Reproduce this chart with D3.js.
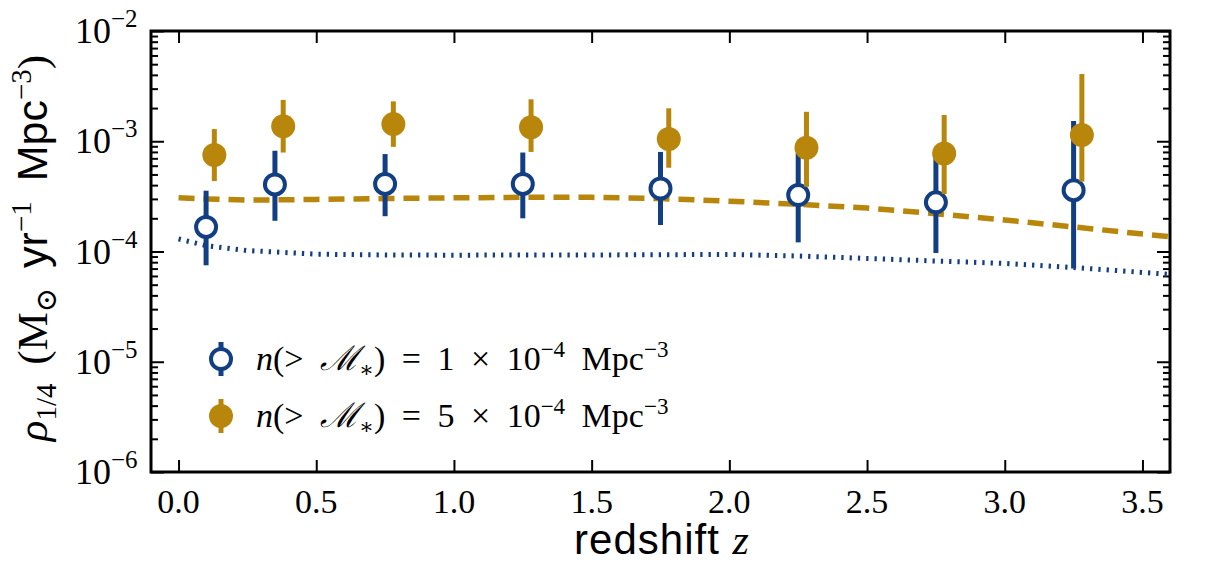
<!doctype html>
<html>
<head>
<meta charset="utf-8">
<script src="https://d3js.org/d3.v7.min.js"></script>
<style>
  body { margin: 0; background: white; }
  svg text { fill: #000; }
</style>
</head>
<body>
<svg id="chart" width="1206" height="563"></svg>
<script>
// measured points (open blue: n > 1e-4, filled gold: n > 5e-4)
var blueZ   = [0.10, 0.35, 0.75, 1.25, 1.75, 2.25, 2.75, 3.25];
var blueRho = [1.67e-4, 4.06e-4, 4.1e-4, 4.1e-4, 3.73e-4, 3.25e-4, 2.79e-4, 3.6e-4];
var blueLo  = [7.5e-5, 1.9e-4, 2.09e-4, 2.0e-4, 1.74e-4, 1.21e-4, 9.7e-5, 7.0e-5];
var blueHi  = [3.56e-4, 8.2e-4, 7.65e-4, 7.9e-4, 8.0e-4, 7.8e-4, 7.0e-4, 1.53e-3];

var goldZ   = [0.13, 0.38, 0.78, 1.28, 1.78, 2.28, 2.78, 3.28];
var goldRho = [7.5e-4, 1.37e-3, 1.43e-3, 1.34e-3, 1.05e-3, 8.73e-4, 7.76e-4, 1.14e-3];
var goldLo  = [4.35e-4, 7.9e-4, 8.9e-4, 8.0e-4, 5.75e-4, 3.86e-4, 3.32e-4, 4.3e-4];
var goldHi  = [1.29e-3, 2.37e-3, 2.3e-3, 2.4e-3, 1.99e-3, 1.85e-3, 1.73e-3, 4.07e-3];

// model curves
var modelZ    = [0, 0.1, 0.25, 0.5, 0.75, 1.0, 1.25, 1.5, 1.75, 2.0, 2.25, 2.5, 2.75, 3.0, 3.25, 3.6];
var modelGold = [3.07e-4, 3.0e-4, 2.92e-4, 2.97e-4, 3.02e-4, 3.07e-4, 3.1e-4, 3.1e-4, 3.02e-4, 2.86e-4, 2.68e-4, 2.48e-4, 2.2e-4, 1.93e-4, 1.67e-4, 1.36e-4];
var modelBlue = [1.3e-4, 1.13e-4, 1.02e-4, 9.46e-5, 9.3e-5, 9.26e-5, 9.3e-5, 9.3e-5, 9.35e-5, 9.4e-5, 9.1e-5, 8.65e-5, 8.2e-5, 7.8e-5, 7.16e-5, 6.2e-5];

var xTicks = [0, 0.5, 1.0, 1.5, 2.0, 2.5, 3.0, 3.5];
var yExps  = [-2, -3, -4, -5, -6];

var blue = "#123e84", gold = "#b8860b";
var serif = "'Liberation Serif', 'DejaVu Serif', serif";
var sans = "'Liberation Sans', Arial, sans-serif";

var L = 151, R = 1170, T = 31, B = 472;
var svg = d3.select("#chart");

var x = d3.scaleLinear().domain([-0.1, 3.6]).range([L, R]);
var y = d3.scaleLog().domain([1e-6, 1e-2]).range([B, T]);

// minor ticks for the log axis
var minor = [];
for (var e = -6; e < -2; e++) {
  for (var k = 2; k <= 9; k++) minor.push(k * Math.pow(10, e));
}
var major = yExps.map(function(p){ return Math.pow(10, p); });

function styleAxis(g, w) {
  g.select(".domain").remove();
  g.selectAll("line").attr("stroke", "#000").attr("stroke-width", w);
}

svg.append("g").attr("transform", "translate(0," + B + ")")
  .call(d3.axisBottom(x).tickValues(xTicks).tickSize(-12).tickFormat(""))
  .call(styleAxis, 2);
svg.append("g").attr("transform", "translate(0," + T + ")")
  .call(d3.axisTop(x).tickValues(xTicks).tickSize(-12).tickFormat(""))
  .call(styleAxis, 2);
svg.append("g").attr("transform", "translate(" + L + ",0)")
  .call(d3.axisLeft(y).tickValues(major).tickSize(-13).tickFormat(""))
  .call(styleAxis, 2);
svg.append("g").attr("transform", "translate(" + L + ",0)")
  .call(d3.axisLeft(y).tickValues(minor).tickSize(-7).tickFormat(""))
  .call(styleAxis, 2);
svg.append("g").attr("transform", "translate(" + R + ",0)")
  .call(d3.axisRight(y).tickValues(major).tickSize(-13).tickFormat(""))
  .call(styleAxis, 2);
svg.append("g").attr("transform", "translate(" + R + ",0)")
  .call(d3.axisRight(y).tickValues(minor).tickSize(-7).tickFormat(""))
  .call(styleAxis, 2);

// tick labels
svg.append("g").selectAll("text").data(xTicks).enter().append("text")
  .attr("x", function(d){ return x(d); })
  .attr("y", B + 41)
  .attr("text-anchor", "middle")
  .attr("font-family", serif).attr("font-size", 34)
  .attr("font-weight", 300)
  .text(function(d){ return d.toFixed(1); });

svg.append("g").selectAll("text").data(yExps).enter().append("text")
  .attr("x", 111)
  .attr("y", function(d){ return y(Math.pow(10, d)) + 12; })
  .attr("text-anchor", "end")
  .attr("font-family", serif).attr("font-size", 36)
  .text("10");
svg.append("g").selectAll("text").data(yExps).enter().append("text")
  .attr("x", 111)
  .attr("y", function(d){ return y(Math.pow(10, d)) - 4; })
  .attr("font-family", serif).attr("font-size", 25)
  .text(function(d){ return "\u2212" + (-d); });

// model lines
var line = d3.line().x(function(d){ return x(d[0]); }).y(function(d){ return y(d[1]); });
svg.append("path")
  .attr("d", line(d3.zip(modelZ, modelBlue)))
  .attr("fill", "none").attr("stroke", blue).attr("stroke-width", 5)
  .attr("stroke-dasharray", "2.3,6");
svg.append("path")
  .attr("d", line(d3.zip(modelZ, modelGold)))
  .attr("fill", "none").attr("stroke", gold).attr("stroke-width", 5.5)
  .attr("stroke-dasharray", "16,9");

// data points with error bars
function drawPoints(zs, rho, lo, hi, col, open) {
  var g = svg.append("g");
  var rows = d3.range(zs.length);
  g.selectAll("line").data(rows).enter().append("line")
    .attr("x1", function(i){ return x(zs[i]); })
    .attr("x2", function(i){ return x(zs[i]); })
    .attr("y1", function(i){ return y(lo[i]); })
    .attr("y2", function(i){ return y(hi[i]); })
    .attr("stroke", col).attr("stroke-width", 5);
  g.selectAll("circle").data(rows).enter().append("circle")
    .attr("cx", function(i){ return x(zs[i]); })
    .attr("cy", function(i){ return y(rho[i]); })
    .attr("r", open ? 10 : 12)
    .attr("fill", open ? "#fff" : col)
    .attr("stroke", open ? col : "none")
    .attr("stroke-width", 4);
}
drawPoints(blueZ, blueRho, blueLo, blueHi, blue, true);
drawPoints(goldZ, goldRho, goldLo, goldHi, gold, false);

// frame
svg.append("rect").attr("x", L).attr("y", T).attr("width", R - L).attr("height", B - T)
  .attr("fill", "none").attr("stroke", "#000").attr("stroke-width", 3);

// legend
var legend = [
  { col: blue, open: true, num: "1", cy: 359 },
  { col: gold, open: false, num: "5", cy: 416 }
];
legend.forEach(function(d) {
  var g = svg.append("g");
  g.append("line").attr("x1", 221).attr("x2", 221).attr("y1", d.cy - 17).attr("y2", d.cy + 17)
    .attr("stroke", d.col).attr("stroke-width", 5);
  g.append("circle").attr("cx", 221).attr("cy", d.cy).attr("r", d.open ? 10 : 12)
    .attr("fill", d.open ? "#fff" : d.col).attr("stroke", d.open ? d.col : "none").attr("stroke-width", 4);
  var t = g.append("text").attr("x", 256).attr("y", d.cy + 11)
    .attr("font-family", serif).attr("font-size", 34).attr("word-spacing", 8);
  t.append("tspan").attr("font-style", "italic").text("n");
  t.append("tspan").text("(> ");
  t.append("tspan").attr("font-family", "'DejaVu Serif', serif").attr("font-style", "italic").text("\u2133");
  t.append("tspan").attr("font-size", 22).attr("dy", 7).text("\u2217");
  t.append("tspan").attr("dy", -7).text(") = " + d.num + " \u00d7 10");
  t.append("tspan").attr("font-size", 23).attr("dy", -13).text("\u22124");
  t.append("tspan").attr("dy", 13).text(" Mpc");
  t.append("tspan").attr("font-size", 23).attr("dy", -13).text("\u22123");
});

// axis titles
var xt = svg.append("text").attr("x", 662).attr("y", 554).attr("text-anchor", "middle")
  .attr("font-family", sans).attr("font-size", 42).attr("letter-spacing", 1);
xt.append("tspan").text("redshift ");
xt.append("tspan").attr("font-family", serif).attr("font-style", "italic").text("z");

var yt = svg.append("text").attr("transform", "translate(47,248) rotate(-90)")
  .attr("text-anchor", "middle").attr("font-family", serif).attr("font-size", 43)
  .attr("word-spacing", 8);
yt.append("tspan").attr("font-style", "italic").text("\u03c1");
yt.append("tspan").attr("font-size", 29).attr("dy", 9).text("1/4");
yt.append("tspan").attr("dy", -9).text(" (M");
yt.append("tspan").attr("font-size", 29).attr("dy", 9).text("\u2299");
yt.append("tspan").attr("dy", -9).attr("font-family", sans).text(" yr");
yt.append("tspan").attr("font-size", 29).attr("dy", -16).text("\u22121");
yt.append("tspan").attr("dy", 16).attr("font-family", sans).text(" Mpc");
yt.append("tspan").attr("font-size", 29).attr("dy", -16).text("\u22123");
yt.append("tspan").attr("dy", 16).text(")");
</script>
</body>
</html>
